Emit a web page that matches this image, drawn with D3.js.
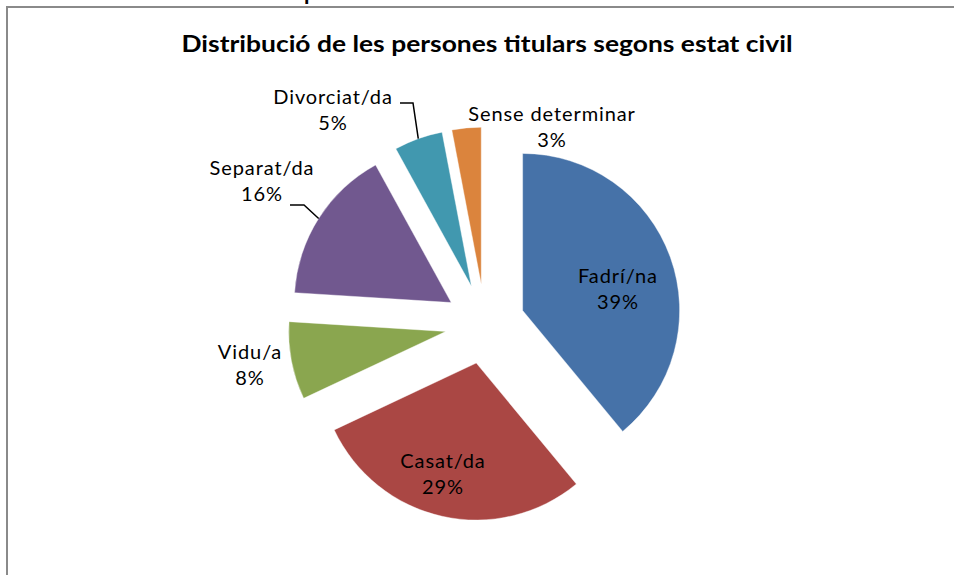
<!DOCTYPE html>
<html>
<head>
<meta charset="utf-8">
<script src="https://cdn.jsdelivr.net/npm/d3@7"></script>
<style>
    body { margin: 0; background: #fff; }
    svg { display: block; }
    text { font-family: Lato, "Open Sans", sans-serif; }
</style>
</head>
<body>
<svg id="chart" width="954" height="575"></svg>
<script>
// dades
const categories = ["Fadrí/na", "Casat/da", "Vidu/a", "Separat/da", "Divorciat/da", "Sense determinar"];
const percents = [39, 29, 8, 16, 5, 3];
const colors = ["#4672A8", "#AA4744", "#8AA64F", "#71588F", "#4198AF", "#DB843D"];
const title = "Distribució de les persones titulars  segons estat civil";

// posicio de les etiquetes (centre del text, linia base de la primera linia)
const labelLayout = {
    "Fadrí/na": { x: 618, y: 283 },
    "Casat/da": { x: 443, y: 468 },
    "Vidu/a": { x: 250, y: 359 },
    "Separat/da": { x: 262, y: 175, leader: [[290, 205], [304, 205]] },
    "Divorciat/da": { x: 333, y: 104, leader: [[400, 103], [413, 103]] },
    "Sense determinar": { x: 552, y: 121 },
};

const svg = d3.select("#chart");
const cx = 485, cy = 324, radius = 157, explode = 40;
const lineGap = 26;

svg.append("rect")
    .attr("x", 0).attr("y", 0)
    .attr("width", 954).attr("height", 575)
    .attr("fill", "#fff");

// tros del titol de la pagina, tallat a dalt
svg.append("text")
    .attr("x", 304).attr("y", 0)
    .attr("font-size", 22)
    .attr("font-weight", "bold")
    .attr("font-family", "Liberation Sans")
    .text("p");

svg.append("rect")
    .attr("x", 7).attr("y", 7)
    .attr("width", 1000).attr("height", 1000)
    .attr("fill", "none")
    .attr("stroke", "#8a8a8a")
    .attr("stroke-width", 2);

svg.append("text")
    .attr("x", 487).attr("y", 52)
    .attr("text-anchor", "middle")
    .attr("font-size", 22)
    .attr("font-weight", "bold")
    .attr("textLength", 611)
    .attr("lengthAdjust", "spacingAndGlyphs")
    .attr("fill", "#000")
    .text(title);

const pie = d3.pie().sort(null).value((d, i) => percents[i]);
const arcs = pie(categories);
const arc = d3.arc().innerRadius(0).outerRadius(radius);

function offset(d) {
    const mid = (d.startAngle + d.endAngle) / 2;
    return [explode * Math.sin(mid), -explode * Math.cos(mid)];
}

const g = svg.append("g").attr("transform", `translate(${cx},${cy})`);

g.selectAll("path.slice")
    .data(arcs)
    .join("path")
    .attr("class", "slice")
    .attr("transform", d => `translate(${offset(d)})`)
    .attr("d", arc)
    .attr("fill", (d, i) => colors[i])
    .attr("stroke", "#fff")
    .attr("stroke-width", 0.4);

// linies guia
arcs.forEach(d => {
    const lay = labelLayout[d.data];
    if (!lay.leader) return;
    const mid = (d.startAngle + d.endAngle) / 2;
    const o = offset(d);
    const end = [cx + o[0] + radius * Math.sin(mid), cy + o[1] - radius * Math.cos(mid)];
    svg.append("path")
        .attr("d", d3.line()([...lay.leader, end]))
        .attr("fill", "none")
        .attr("stroke", "#000")
        .attr("stroke-width", 1.5);
});

const labels = svg.selectAll("text.lbl")
    .data(arcs)
    .join("text")
    .attr("class", "lbl")
    .attr("text-anchor", "middle")
    .attr("font-size", 20)
    .attr("letter-spacing", 0.9)
    .attr("fill", "#000");

labels.append("tspan")
    .attr("x", d => labelLayout[d.data].x)
    .attr("y", d => labelLayout[d.data].y)
    .text(d => d.data);

labels.append("tspan")
    .attr("x", d => labelLayout[d.data].x)
    .attr("y", d => labelLayout[d.data].y + lineGap)
    .text((d, i) => percents[i] + "%");
</script>
</body>
</html>
